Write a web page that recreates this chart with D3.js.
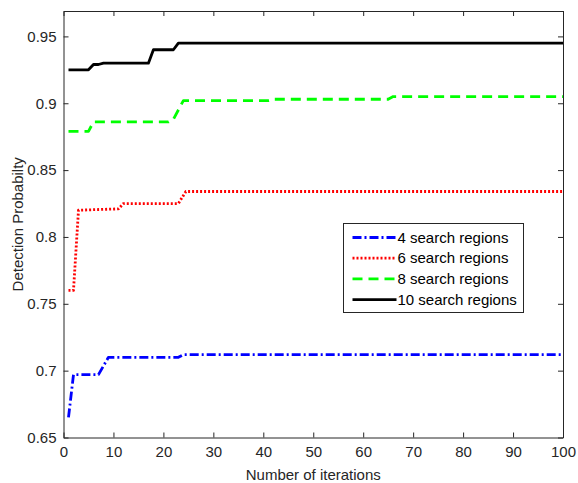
<!DOCTYPE html>
<html>
<head>
<meta charset="utf-8">
<script src="https://cdn.jsdelivr.net/npm/d3@7"></script>
<style>
  body { margin: 0; background: #fff; }
  text { font-family: "Liberation Sans", Arial, sans-serif; }
</style>
</head>
<body>
<svg id="chart" width="578" height="483"></svg>
<script>
// ============================ DATA ============================
const xTicks = [0, 10, 20, 30, 40, 50, 60, 70, 80, 90, 100];
const yTicks = [0.65, 0.7, 0.75, 0.8, 0.85, 0.9, 0.95];
const yTickLabels = ["0.65", "0.7", "0.75", "0.8", "0.85", "0.9", "0.95"];

// breakpoints [iteration, probability]
const regions4 = [[1, 0.665], [2, 0.697], [7, 0.697], [9, 0.71], [23, 0.71], [24, 0.712], [100, 0.712]];
const regions6 = [[1, 0.76], [2, 0.76], [3, 0.82], [11, 0.821], [12, 0.825], [23, 0.825], [24.5, 0.834], [100, 0.834]];
const regions8 = [[1, 0.879], [5, 0.879], [6, 0.886], [21, 0.886], [22, 0.888], [24, 0.902], [41, 0.902], [42, 0.903], [65, 0.903], [66, 0.905], [100, 0.905]];
const regions10 = [[1, 0.925], [5, 0.925], [6, 0.929], [7, 0.929], [8, 0.93], [17, 0.93], [18, 0.94], [22, 0.94], [23, 0.945], [100, 0.945]];

const seriesNames = ["4 search regions", "6 search regions", "8 search regions", "10 search regions"];
const seriesData = [regions4, regions6, regions8, regions10];

// ============================ CANVAS ============================
const margin = {left: 63.5, right: 15, top: 11, bottom: 45.5};
const W = 578, H = 483;
const width = W - margin.left - margin.right;
const height = H - margin.top - margin.bottom;

const styles = [
  {color: "#0000ff", dash: "9,3,2,3", width: 2.8},
  {color: "#ff0000", dash: "2,2", width: 2.8},
  {color: "#00ff00", dash: "10,6", width: 2.8},
  {color: "#000000", dash: null, width: 2.8}
];

const svg = d3.select("#chart");
const g = svg.append("g").attr("transform", "translate(" + margin.left + "," + margin.top + ")");

const x = d3.scaleLinear().domain([0, 100]).range([0, width]);
const y = d3.scaleLinear().domain([0.65, 0.969]).range([height, 0]);

const line = d3.line().x(d => x(d[0])).y(d => y(d[1]));

// ============================ LINES ============================
seriesData.forEach((s, i) => {
  g.append("path")
    .datum(s)
    .attr("fill", "none")
    .attr("stroke", styles[i].color)
    .attr("stroke-width", styles[i].width)
    .attr("stroke-dasharray", styles[i].dash)
    .attr("stroke-linejoin", "round")
    .attr("d", line);
});

// ============================ AXES ============================
const tickColor = "#262626";
const fontSize = 15;

const xAxis = g.append("g").attr("transform", "translate(0," + height + ")")
  .call(d3.axisBottom(x).tickValues(xTicks).tickSizeInner(-5).tickSizeOuter(0).tickPadding(9));
const yAxis = g.append("g")
  .call(d3.axisLeft(y).tickValues(yTicks).tickFormat((d, i) => yTickLabels[i]).tickSizeInner(-5).tickSizeOuter(0).tickPadding(7));
const xTop = g.append("g")
  .call(d3.axisTop(x).tickValues(xTicks).tickSizeInner(-5).tickSizeOuter(0).tickFormat(""));
const yRight = g.append("g").attr("transform", "translate(" + width + ",0)")
  .call(d3.axisRight(y).tickValues(yTicks).tickSizeInner(-5).tickSizeOuter(0).tickFormat(""));

[xAxis, yAxis, xTop, yRight].forEach(a => {
  a.select(".domain").attr("stroke", tickColor).attr("stroke-width", 1);
  a.selectAll(".tick line").attr("stroke", tickColor);
  a.selectAll("text").attr("fill", tickColor).style("font-size", fontSize + "px")
    .style("font-family", "'Liberation Sans', Arial, sans-serif");
});

// ============================ LABELS ============================
svg.append("text")
  .attr("x", margin.left + width / 2)
  .attr("y", 480)
  .attr("text-anchor", "middle")
  .attr("fill", tickColor)
  .style("font-size", fontSize + "px")
  .text("Number of iterations");

svg.append("text")
  .attr("transform", "translate(23," + (margin.top + height / 2) + ")rotate(-90)")
  .attr("text-anchor", "middle")
  .attr("fill", tickColor)
  .style("font-size", fontSize + "px")
  .text("Detection Probabilty");

// ============================ LEGEND ============================
const legend = svg.append("g").attr("transform", "translate(343.5,223.5)");
legend.append("rect")
  .attr("width", 180).attr("height", 89)
  .attr("fill", "#fff").attr("stroke", "#262626").attr("stroke-width", 1);

seriesNames.forEach((name, i) => {
  const ly = 14 + i * 20.7;
  legend.append("line")
    .attr("x1", 9).attr("x2", 53).attr("y1", ly).attr("y2", ly)
    .attr("stroke", styles[i].color)
    .attr("stroke-width", styles[i].width)
    .attr("stroke-dasharray", styles[i].dash);
  legend.append("text")
    .attr("x", 54).attr("y", ly + 5)
    .attr("fill", "#000")
    .style("font-size", fontSize + "px")
    .text(name);
});
</script>
</body>
</html>
